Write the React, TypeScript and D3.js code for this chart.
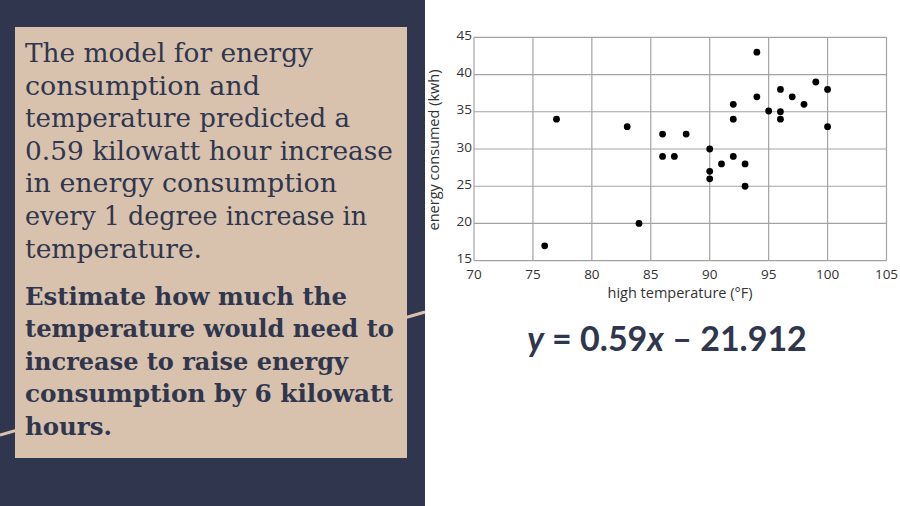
import React from "react";
import * as d3 from "d3";

const temps = [76, 77, 83, 84, 86, 86, 87, 88, 90, 90, 90, 91, 92, 92, 92, 93, 93, 94, 94, 95, 96, 96, 96, 97, 98, 99, 100, 100];
const energy = [17, 34, 33, 20, 32, 29, 29, 32, 30, 27, 26, 28, 36, 34, 29, 28, 25, 43, 37, 35.1, 38, 35, 34, 37, 36, 39, 38, 33];
const xTicks = [70, 75, 80, 85, 90, 95, 100, 105];
const yTicks = [15, 20, 25, 30, 35, 40, 45];
const xTitle = "high temperature (°F)";
const yTitle = "energy consumed (kwh)";
const bodyLines = [
  "The model for energy",
  "consumption and",
  "temperature predicted a",
  "0.59 kilowatt hour increase",
  "in energy consumption",
  "every 1 degree increase in",
  "temperature.",
];
const bodyWidths = [288, 235, 325, 368, 312, 342, 177];
const boldLines = [
  "Estimate how much the",
  "temperature would need to",
  "increase to raise energy",
  "consumption by 6 kilowatt",
  "hours.",
];
const boldWidths = [322, 369, 323, 368, 87];

const NAVY = "#2f364d";
const BEIGE = "#d8c2ad";

export default function App() {
  const x = d3.scaleLinear().domain([70, 105]).range([474, 886.5]);
  const y = d3.scaleLinear().domain([15, 45]).range([260.7, 37.3]);
  const points = temps.map((t, i) => ({ t, e: energy[i] }));
  const gridColor = "#a3a3a3";
  const tickFont = "'Open Sans', 'Noto Sans', sans-serif";
  const serif = "'DejaVu Serif', 'Liberation Serif', serif";

  return (
    <svg width={900} height={506} style={{ position: "absolute", left: 0, top: 0 }}>
      <rect x={0} y={0} width={900} height={506} fill="#ffffff" />
      <rect x={0} y={0} width={425} height={506} fill={NAVY} />
      <line x1={0} y1={435} x2={425} y2={312} stroke={BEIGE} strokeWidth={3} />
      <rect x={15} y={27} width={392} height={431} fill={BEIGE} />
      <g fill={NAVY} fontFamily={serif}>
        {bodyLines.map((l, i) => (
          <text key={"b" + i} x={25} y={62 + i * 32.6} fontSize={25.5} textLength={bodyWidths[i]} lengthAdjust="spacingAndGlyphs">
            {l}
          </text>
        ))}
        {boldLines.map((l, i) => (
          <text key={"q" + i} x={25} y={305 + i * 32.4} fontSize={24.5} fontWeight="bold" textLength={boldWidths[i]} lengthAdjust="spacingAndGlyphs">
            {l}
          </text>
        ))}
      </g>

      {/* plot */}
      <g>
        {xTicks.map((t) => (
          <line key={"gx" + t} x1={x(t)} x2={x(t)} y1={y(15)} y2={y(45)} stroke={gridColor} strokeWidth={1.2} />
        ))}
        {yTicks.map((t) => (
          <line key={"gy" + t} x1={x(70)} x2={x(105)} y1={y(t)} y2={y(t)} stroke={gridColor} strokeWidth={1.2} />
        ))}
        {xTicks.map((t) => (
          <text key={"tx" + t} x={x(t)} y={278.5} textAnchor="middle" fontSize={13.5} fontFamily={tickFont} fill="#333">
            {t}
          </text>
        ))}
        {yTicks.map((t) => (
          <text key={"ty" + t} x={472} y={y(t) - 2} dy="0.35em" textAnchor="end" fontSize={13.5} fontFamily={tickFont} fill="#333">
            {t}
          </text>
        ))}
        {points.map((p, i) => (
          <circle key={"p" + i} cx={x(p.t)} cy={y(p.e)} r={3.4} fill="#000" />
        ))}
        <text x={680} y={298} textAnchor="middle" fontSize={14.5} fontFamily={tickFont} fill="#333">
          {xTitle}
        </text>
        <text
          transform={`translate(439,150) rotate(-90)`}
          textAnchor="middle"
          fontSize={14.5}
          fontFamily={tickFont}
          fill="#333"
        >
          {yTitle}
        </text>
      </g>

      <text x={667} y={351} textAnchor="middle" fontSize={34} fontWeight="bold" fontFamily="Lato, sans-serif" fill={NAVY}>
        <tspan fontStyle="italic">y</tspan>
        <tspan> = 0.59</tspan>
        <tspan fontStyle="italic">x</tspan>
        <tspan> – 21.912</tspan>
      </text>
    </svg>
  );
}
